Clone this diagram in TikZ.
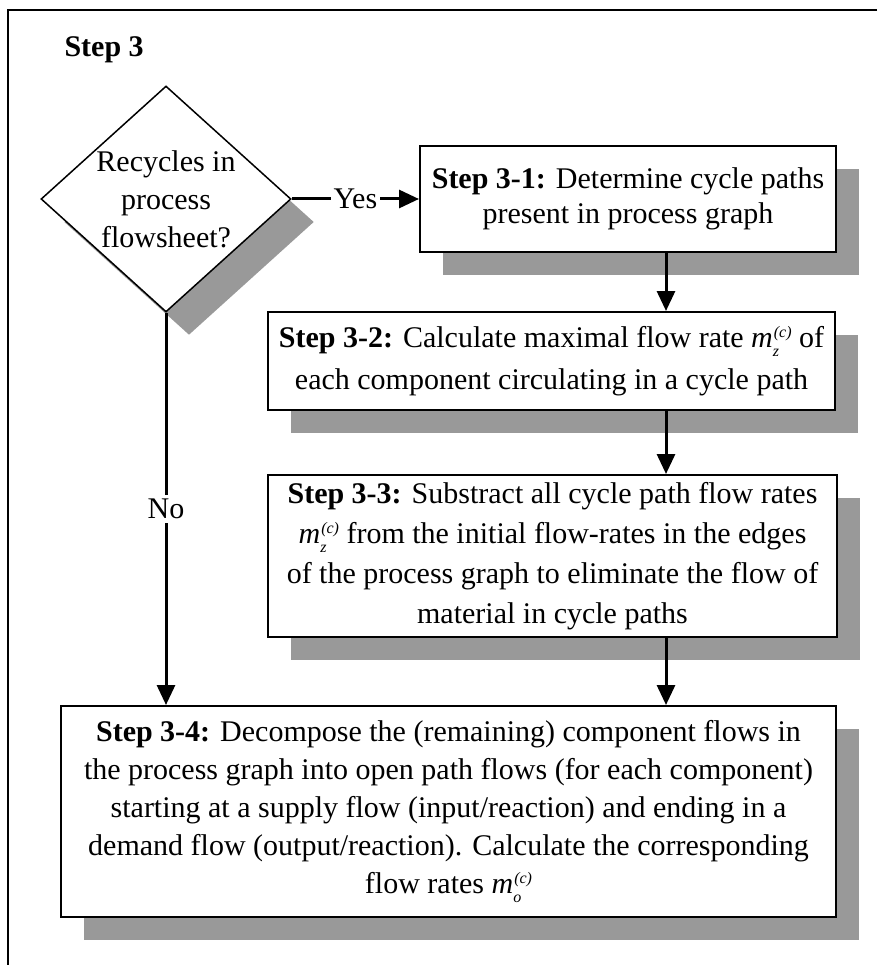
\documentclass[tikz,border=0pt]{standalone}
\usepackage{fontspec}
\setmainfont{Liberation Serif}
\usetikzlibrary{shapes.geometric,shadows,arrows.meta}
\definecolor{shadowgray}{gray}{0.6}
% small index text for the flow-rate symbol
\newcommand{\idx}[1]{{\fontsize{16}{16}\selectfont\textit{#1}}}
% flow-rate symbol m with subscript and (c) superscript
\newcommand{\mflow}[1]{\textit{m}\rlap{\raisebox{-9pt}{\idx{#1}}}\kern1pt\raisebox{10pt}{\idx{(c)}}}
% text size with a given line spacing
\newcommand{\txt}[1]{\fontsize{30}{#1}\selectfont}

\begin{document}
\begin{tikzpicture}[x=1pt,y=-1pt,
  font=\txt{37},
  shadowed/.style={drop shadow={shadow xshift=23pt,shadow yshift=-23pt,fill=shadowgray,opacity=1}},
  stepbox/.style={draw,line width=2pt,fill=white,shadowed,align=center,inner sep=0pt},
  flow/.style={line width=3pt,-{Triangle[length=20pt,width=18pt]}},
  lbl/.style={fill=white,inner xsep=3pt,inner ysep=4pt},
  ]
\useasboundingbox (0,0) rectangle (877,965);

% outer frame
\draw[line width=2pt] (877,10) -- (8,10) -- (8,965);

\node[anchor=base west,font=\txt{37}\bfseries] (title) at (61,57) {Step 3};

% decision
\node[diamond,draw,line width=1.5pt,fill=white,shadowed,
      minimum width=250pt,minimum height=226pt,inner sep=0pt] (dec) at (166,199) {};
\node[align=center,font=\txt{38}] (dectext) at (dec.center) {Recycles in\\process\\flowsheet?};

% process steps
\node[stepbox,font=\txt{35},minimum width=416pt,minimum height=106pt] (s1) at (628,199)
  {\textbf{Step 3-1:} Determine cycle paths\\present in process graph};
\node[stepbox,font=\txt{42},minimum width=567pt,minimum height=98pt] (s2) at (551.5,361)
  {\textbf{Step 3-2:} Calculate maximal flow rate \mflow{z} of\\each component circulating in a cycle path};
\node[stepbox,font=\txt{40},minimum width=569pt,minimum height=162pt] (s3) at (552.5,556)
  {\textbf{Step 3-3:} Substract all cycle path flow rates\\\mflow{z} from the initial flow-rates in the edges\\of the process graph to eliminate the flow of\\material in cycle paths};
\node[stepbox,font=\txt{38},minimum width=775pt,minimum height=211pt] (s4) at (448.5,811.5)
  {\textbf{Step 3-4:} Decompose the (remaining) component flows in\\the process graph into open path flows (for each component)\\starting at a supply flow (input/reaction) and ending in a\\demand flow (output/reaction). Calculate the corresponding\\flow rates \mflow{o}};

% connectors
\coordinate (col) at (666,0);
\draw[flow] (dec.east) -- node[lbl]{Yes} (s1.west);
\draw[flow] (dec.south) -- node[lbl]{No} (s4.north -| dec.south);
\draw[flow] (s1.south -| col) -- (s2.north -| col);
\draw[flow] (s2.south -| col) -- (s3.north -| col);
\draw[flow] (s3.south -| col) -- (s4.north -| col);
\end{tikzpicture}
\end{document}
